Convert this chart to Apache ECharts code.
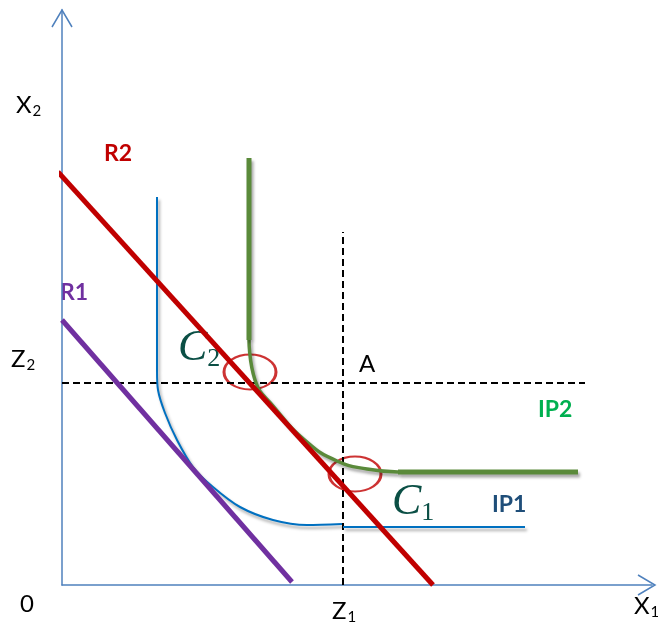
<!DOCTYPE html>
<html>
<head>
<meta charset="utf-8">
<script src="https://cdn.jsdelivr.net/npm/echarts@6/dist/echarts.min.js"></script>
<style>
  html, body { margin: 0; padding: 0; background: #fff; }
  #main { width: 658px; height: 630px; }
</style>
</head>
<body>
<div id="main"></div>
<script>
    // data units: 1 unit = 1 px, origin at the axes corner
    var budgetR1 = [[0, 265], [230, 3]];
    var budgetR2 = [[-4, 413], [371, 0]];
    var ip1Vert = [[95, 388], [95, 215]];
    var ip1Curve = [[95, 215], [96, 195], [103, 172], [115, 145], [131, 118],
                    [151, 98], [178, 78], [211, 65], [245, 60], [280, 61]];
    var ip1Flat = [[281, 58], [463, 58]];
    var ip2Vert = [[187, 427], [187, 245]];
    var ip2Curve = [[187, 245], [193, 205], [212, 178], [245, 143], [275, 124],
                    [305, 116], [336, 113]];
    var ip2Flat = [[336, 113], [516, 113]];
    var z2Line = [[0, 202], [523, 202]];
    var z1Line = [[281, 0], [281, 353]];
    var optimumPoints = [[188, 213], [293, 111]];

    var chartDom = document.getElementById('main');
    var myChart = echarts.init(chartDom);
    var option;

    var shadow = {
        shadowColor: 'rgba(0,0,0,0.35)',
        shadowBlur: 3,
        shadowOffsetX: 2,
        shadowOffsetY: 3
    };
    var axisBlue = '#4f81bd';

    function line(name, data, color, width, extra, smooth) {
        return {
            name: name,
            type: 'line',
            data: data,
            symbol: 'none',
            smooth: smooth || false,
            clip: false,
            silent: true,
            lineStyle: Object.assign({ color: color, width: width }, extra || {})
        };
    }

    // plain label with optional subscript, drawn as real text
    function txt(x, y, main, sub, font, color) {
        return {
            type: 'text',
            left: x,
            top: y,
            style: {
                text: sub ? main + '{sub|' + sub + '}' : main,
                font: font || '24px Lato',
                fill: color || '#000',
                rich: {
                    sub: { font: '15px Lato', padding: [13, 0, 0, 1] },
                    csub: { font: '26px "Liberation Serif"', fill: '#0b4f45', padding: [22, 0, 0, 0] }
                }
            }
        };
    }

    option = {
        animation: false,
        grid: { left: 62, right: 6, top: 10, bottom: 45 },
        xAxis: {
            type: 'value', min: 0, max: 590,
            axisLine: { show: true, lineStyle: { color: axisBlue, width: 1.5 } },
            axisTick: { show: false }, axisLabel: { show: false }, splitLine: { show: false }
        },
        yAxis: {
            type: 'value', min: 0, max: 575,
            axisLine: { show: true, lineStyle: { color: axisBlue, width: 1.5 } },
            axisTick: { show: false }, axisLabel: { show: false }, splitLine: { show: false }
        },
        series: [
            line('Z2', z2Line, '#000', 2, { type: [7, 4] }),
            line('Z1', z1Line, '#000', 2, { type: [7, 4] }),
            line('IP1 vert', ip1Vert, '#0070c0', 2, shadow),
            line('IP1', ip1Curve, '#0070c0', 2, shadow, 0.3),
            line('IP1 flat', ip1Flat, '#0070c0', 2, shadow),
            line('IP2 curve', ip2Curve, '#5a8a3a', 3.5, shadow, 0.5),
            line('IP2 vert', ip2Vert, '#5a8a3a', 5, shadow),
            line('IP2 flat', ip2Flat, '#5a8a3a', 5, shadow),
            line('R1', budgetR1, '#7030a0', 5),
            line('R2', budgetR2, '#c00000', 5),
            {
                type: 'scatter',
                data: optimumPoints,
                symbol: 'circle',
                symbolSize: [52, 35],
                silent: true,
                itemStyle: { color: 'rgba(0,0,0,0)', borderColor: '#c00000', borderWidth: 2.5 }
            }
        ],
        graphic: [
            { type: 'polyline', shape: { points: [[52, 27], [62, 10], [72, 27]] },
              style: { stroke: axisBlue, lineWidth: 1.5, fill: null } },
            { type: 'polyline', shape: { points: [[638, 575], [655, 585], [638, 595]] },
              style: { stroke: axisBlue, lineWidth: 1.5, fill: null } },
            txt(16, 93, 'X', '2'),
            txt(11, 347, 'Z', '2'),
            txt(20, 592, '0'),
            txt(332, 599, 'Z', '1'),
            txt(634, 594, 'X', '1'),
            txt(359, 352, 'A'),
            txt(104, 142, 'R2', null, 'bold 23px Lato', '#c00000'),
            txt(60, 281, 'R1', null, 'bold 23px Lato', '#7030a0'),
            txt(538, 398, 'IP2', null, 'bold 23px Lato', '#00b050'),
            txt(492, 493, 'IP1', null, 'bold 23px Lato', '#1f4e79'),
            {
                type: 'text', left: 178, top: 326,
                style: {
                    text: 'C{csub|2}', font: 'italic 44px "Liberation Serif"', fill: '#0b4f45',
                    rich: { csub: { font: '26px "Liberation Serif"', fill: '#0b4f45', padding: [22, 0, 0, 0] } }
                }
            },
            {
                type: 'text', left: 392, top: 480,
                style: {
                    text: 'C{csub|1}', font: 'italic 44px "Liberation Serif"', fill: '#0b4f45',
                    rich: { csub: { font: '26px "Liberation Serif"', fill: '#0b4f45', padding: [22, 0, 0, 0] } }
                }
            }
        ]
    };

    option && myChart.setOption(option);
</script>
</body>
</html>
